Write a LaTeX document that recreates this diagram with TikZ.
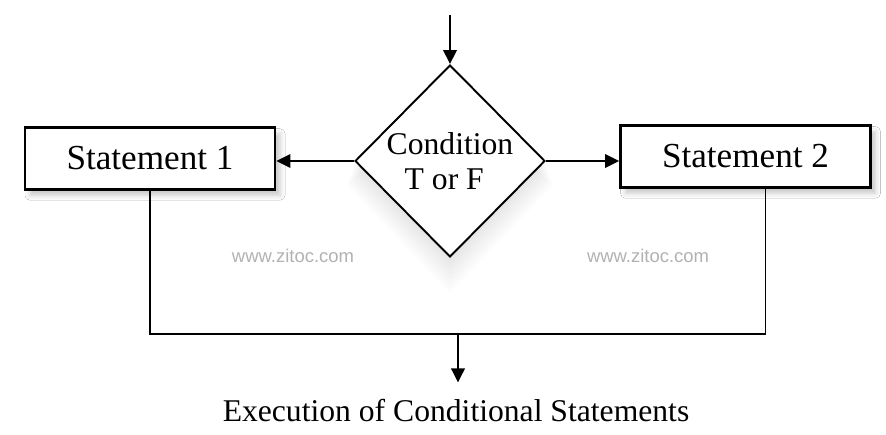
\documentclass[tikz,border=0pt]{standalone}
\usepackage{fontspec}
\setmainfont{Liberation Serif}
\newfontfamily\wmfont{Liberation Sans}
\usetikzlibrary{arrows.meta,shapes.geometric,shadows.blur}
\begin{document}
\begin{tikzpicture}[
  stmtbox/.style={draw,line width=1.5pt,fill=white,minimum width=5cm,minimum height=1.23cm,inner sep=0pt,
    font=\fontsize{20}{24}\selectfont,
    blur shadow={shadow xshift=1.0mm,shadow yshift=-1.2mm,shadow blur radius=1.0mm,shadow opacity=22}},
  testbox/.style={draw,diamond,line width=1.1pt,fill=white,minimum width=3.8cm,minimum height=3.84cm,inner sep=0pt},
  flow/.style={line width=1.1pt,-{Triangle[length=2.8mm,width=2.7mm]}},
  wm/.style={text=black!30,font=\wmfont\fontsize{10.5}{12}\selectfont}]
  \useasboundingbox (0,0) rectangle (17.72,8.70);
  \fill[white] (0,0) rectangle (17.72,8.70);
  % soft glow under the decision
  \foreach \k in {1,...,8}
    \fill[black,opacity=0.012] (9,{5.48+1.92-0.06*\k}) -- ({9+1.9+0.02*\k},{5.48-0.06*\k})
      -- (9,{5.48-1.92-0.09*\k}) -- ({9-1.9-0.02*\k},{5.48-0.06*\k}) -- cycle;
  % decision and the two branches
  \coordinate (top) at (9,8.4);
  \node[testbox] (test) at (9,5.48) {};
  \node[align=left,inner sep=0pt,font=\fontsize{18}{20}\selectfont] (testtxt) at (9,5.47) {Condition\\\hspace*{0.36cm}T or F};
  \node[stmtbox] (st1) at (3.0,5.53) {Statement 1};
  \node[stmtbox] (st2) at (14.91,5.57) {Statement 2};
  \draw[flow] (top) -- (test.north);
  \draw[flow] (test.west) -- (test.west -| st1.east);
  \draw[flow] (test.east) -- (test.east -| st2.west);
  % join
  \coordinate (merge) at (9.16,2.02);
  \coordinate (out) at (9.16,1.05);
  \draw[line width=1.1pt] (st1.south) |- (merge) -| ([xshift=4mm]st2.south);
  \draw[flow] (merge) -- (out);
  \node[font=\fontsize{18}{20}\selectfont] (caption) at (9.12,0.48) {Execution of Conditional Statements};
  \node[wm] (wm1) at (5.86,3.58) {www.zitoc.com};
  \node[wm] (wm2) at (12.96,3.58) {www.zitoc.com};
\end{tikzpicture}
\end{document}
